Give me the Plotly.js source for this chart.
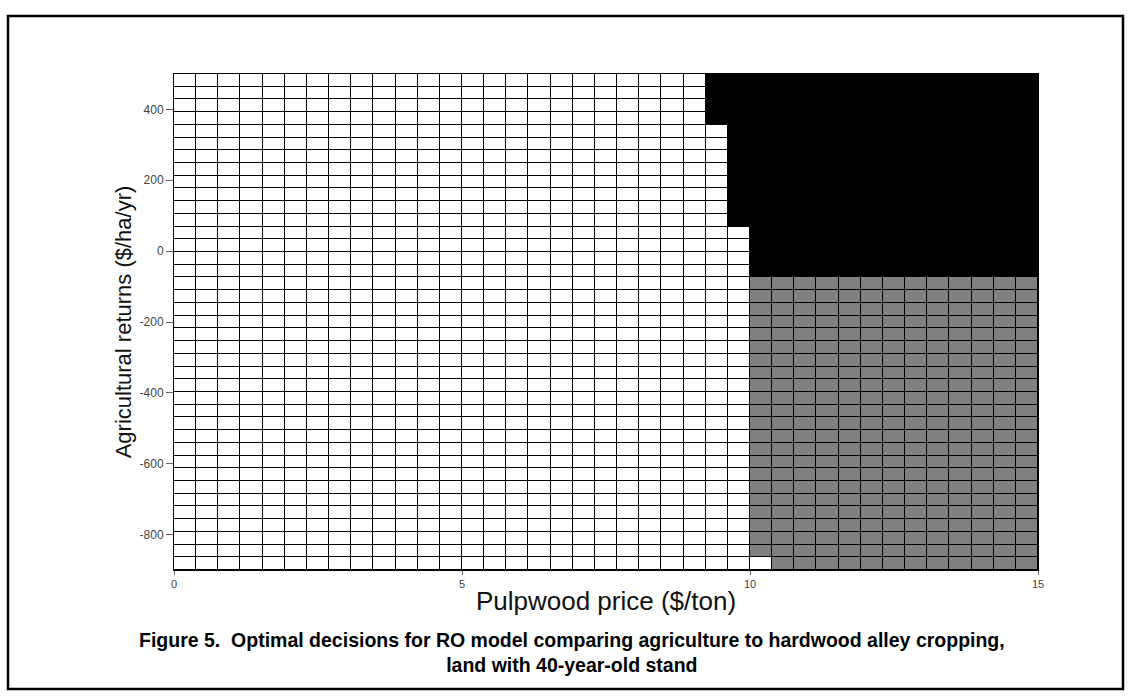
<!DOCTYPE html>
<html>
<head>
<meta charset="utf-8">
<script src="https://cdn.plot.ly/plotly-3.0.1.min.js"></script>
<style>
  html, body { margin: 0; padding: 0; background: #ffffff; }
  #chart { width: 1131px; height: 700px; }
</style>
</head>
<body>
<div id="chart"></div>
<script>
// ---- Data (rows listed top to bottom) ----
// Pulpwood price axis: 0..15 $/ton split into 39 cells
var priceMin = 0, priceMax = 15, nPriceCells = 39;
// Agricultural returns axis: -900..500 $/ha/yr split into 39 cells
var returnMin = -900, returnMax = 500, nReturnCells = 39;

// number of left-hand "agriculture" (white) cells in each row, top row first
var whiteCellsPerRow = [24,24,24,24,25,25,25,25,25,25,25,25,26,26,26,26,
                        26,26,26,26,26,26,26,26,26,26,26,26,26,26,26,26,26,26,26,26,26,26,27];
// decision in the remaining cells of each row: 2 = black, 1 = grey
var rightDecisionPerRow = [2,2,2,2,2,2,2,2,2,2,2,2,2,2,2,2,
                           1,1,1,1,1,1,1,1,1,1,1,1,1,1,1,1,1,1,1,1,1,1,1];

var xTicks = [0, 5, 10, 15];
var yTicks = [-800, -600, -400, -200, 0, 200, 400];

// ---- build the decision matrix (bottom row first for the heatmap) ----
var z = [];
for (var r = whiteCellsPerRow.length - 1; r >= 0; r--) {
  var row = [];
  for (var c = 0; c < nPriceCells; c++) {
    row.push(c < whiteCellsPerRow[r] ? 0 : rightDecisionPerRow[r]);
  }
  z.push(row);
}
var dx = (priceMax - priceMin) / nPriceCells;
var dy = (returnMax - returnMin) / nReturnCells;

var trace = {
  type: 'heatmap',
  z: z,
  x0: priceMin + dx / 2, dx: dx,
  y0: returnMin + dy / 2, dy: dy,
  zmin: 0, zmax: 2,
  colorscale: [[0, '#ffffff'], [0.5, '#808080'], [1, '#000000']],
  showscale: false,
  xgap: 1, ygap: 1,
  hoverinfo: 'skip'
};

// plot area in pixels
var L = 174, T = 74, W = 864, H = 496;
function px(x) { return (x - L) / W; }
function py(y) { return (T + H - y) / H; }

var layout = {
  width: 1131, height: 700,
  margin: { l: L, r: 1131 - L - W, t: T, b: 700 - T - H, pad: 0 },
  paper_bgcolor: '#ffffff',
  plot_bgcolor: '#000000',
  font: { family: 'Liberation Sans, Arial, sans-serif', color: '#000' },
  showlegend: false,
  xaxis: {
    range: [priceMin, priceMax],
    tickvals: xTicks,
    ticktext: xTicks.map(String),
    ticks: 'outside', ticklen: 4, tickcolor: '#666', tickwidth: 1,
    tickfont: { size: 11, color: '#444' },
    showgrid: false, zeroline: false,
    showline: true, linecolor: '#000', linewidth: 1, mirror: true,
    title: { text: 'Pulpwood price ($/ton)', font: { size: 26, color: '#111' }, standoff: 2 }
  },
  yaxis: {
    range: [returnMin, returnMax],
    tickvals: yTicks,
    ticktext: yTicks.map(String),
    ticks: 'outside', ticklen: 7, tickcolor: '#666', tickwidth: 1,
    tickfont: { size: 12, color: '#444' },
    showgrid: false, zeroline: false,
    showline: true, linecolor: '#000', linewidth: 1, mirror: true,
    title: { text: 'Agricultural returns ($/ha/yr)', font: { size: 22, color: '#111' }, standoff: 1 }
  },
  shapes: [{
    type: 'rect', xref: 'paper', yref: 'paper',
    x0: px(8), x1: px(1123), y0: py(689), y1: py(16),
    line: { color: '#000', width: 2.5 }, fillcolor: 'rgba(0,0,0,0)', layer: 'above'
  }],
  annotations: [{
    xref: 'paper', yref: 'paper',
    x: px(572), y: py(652), xanchor: 'center', yanchor: 'middle',
    showarrow: false, align: 'center',
    text: '<b>Figure 5.  Optimal decisions for RO model comparing agriculture to hardwood alley cropping,<br>land with 40-year-old stand</b>',
    font: { size: 19.5, color: '#000', family: 'Liberation Sans, Arial, sans-serif' }
  }]
};

Plotly.newPlot('chart', [trace], layout, { displayModeBar: false, staticPlot: true });
</script>
</body>
</html>
